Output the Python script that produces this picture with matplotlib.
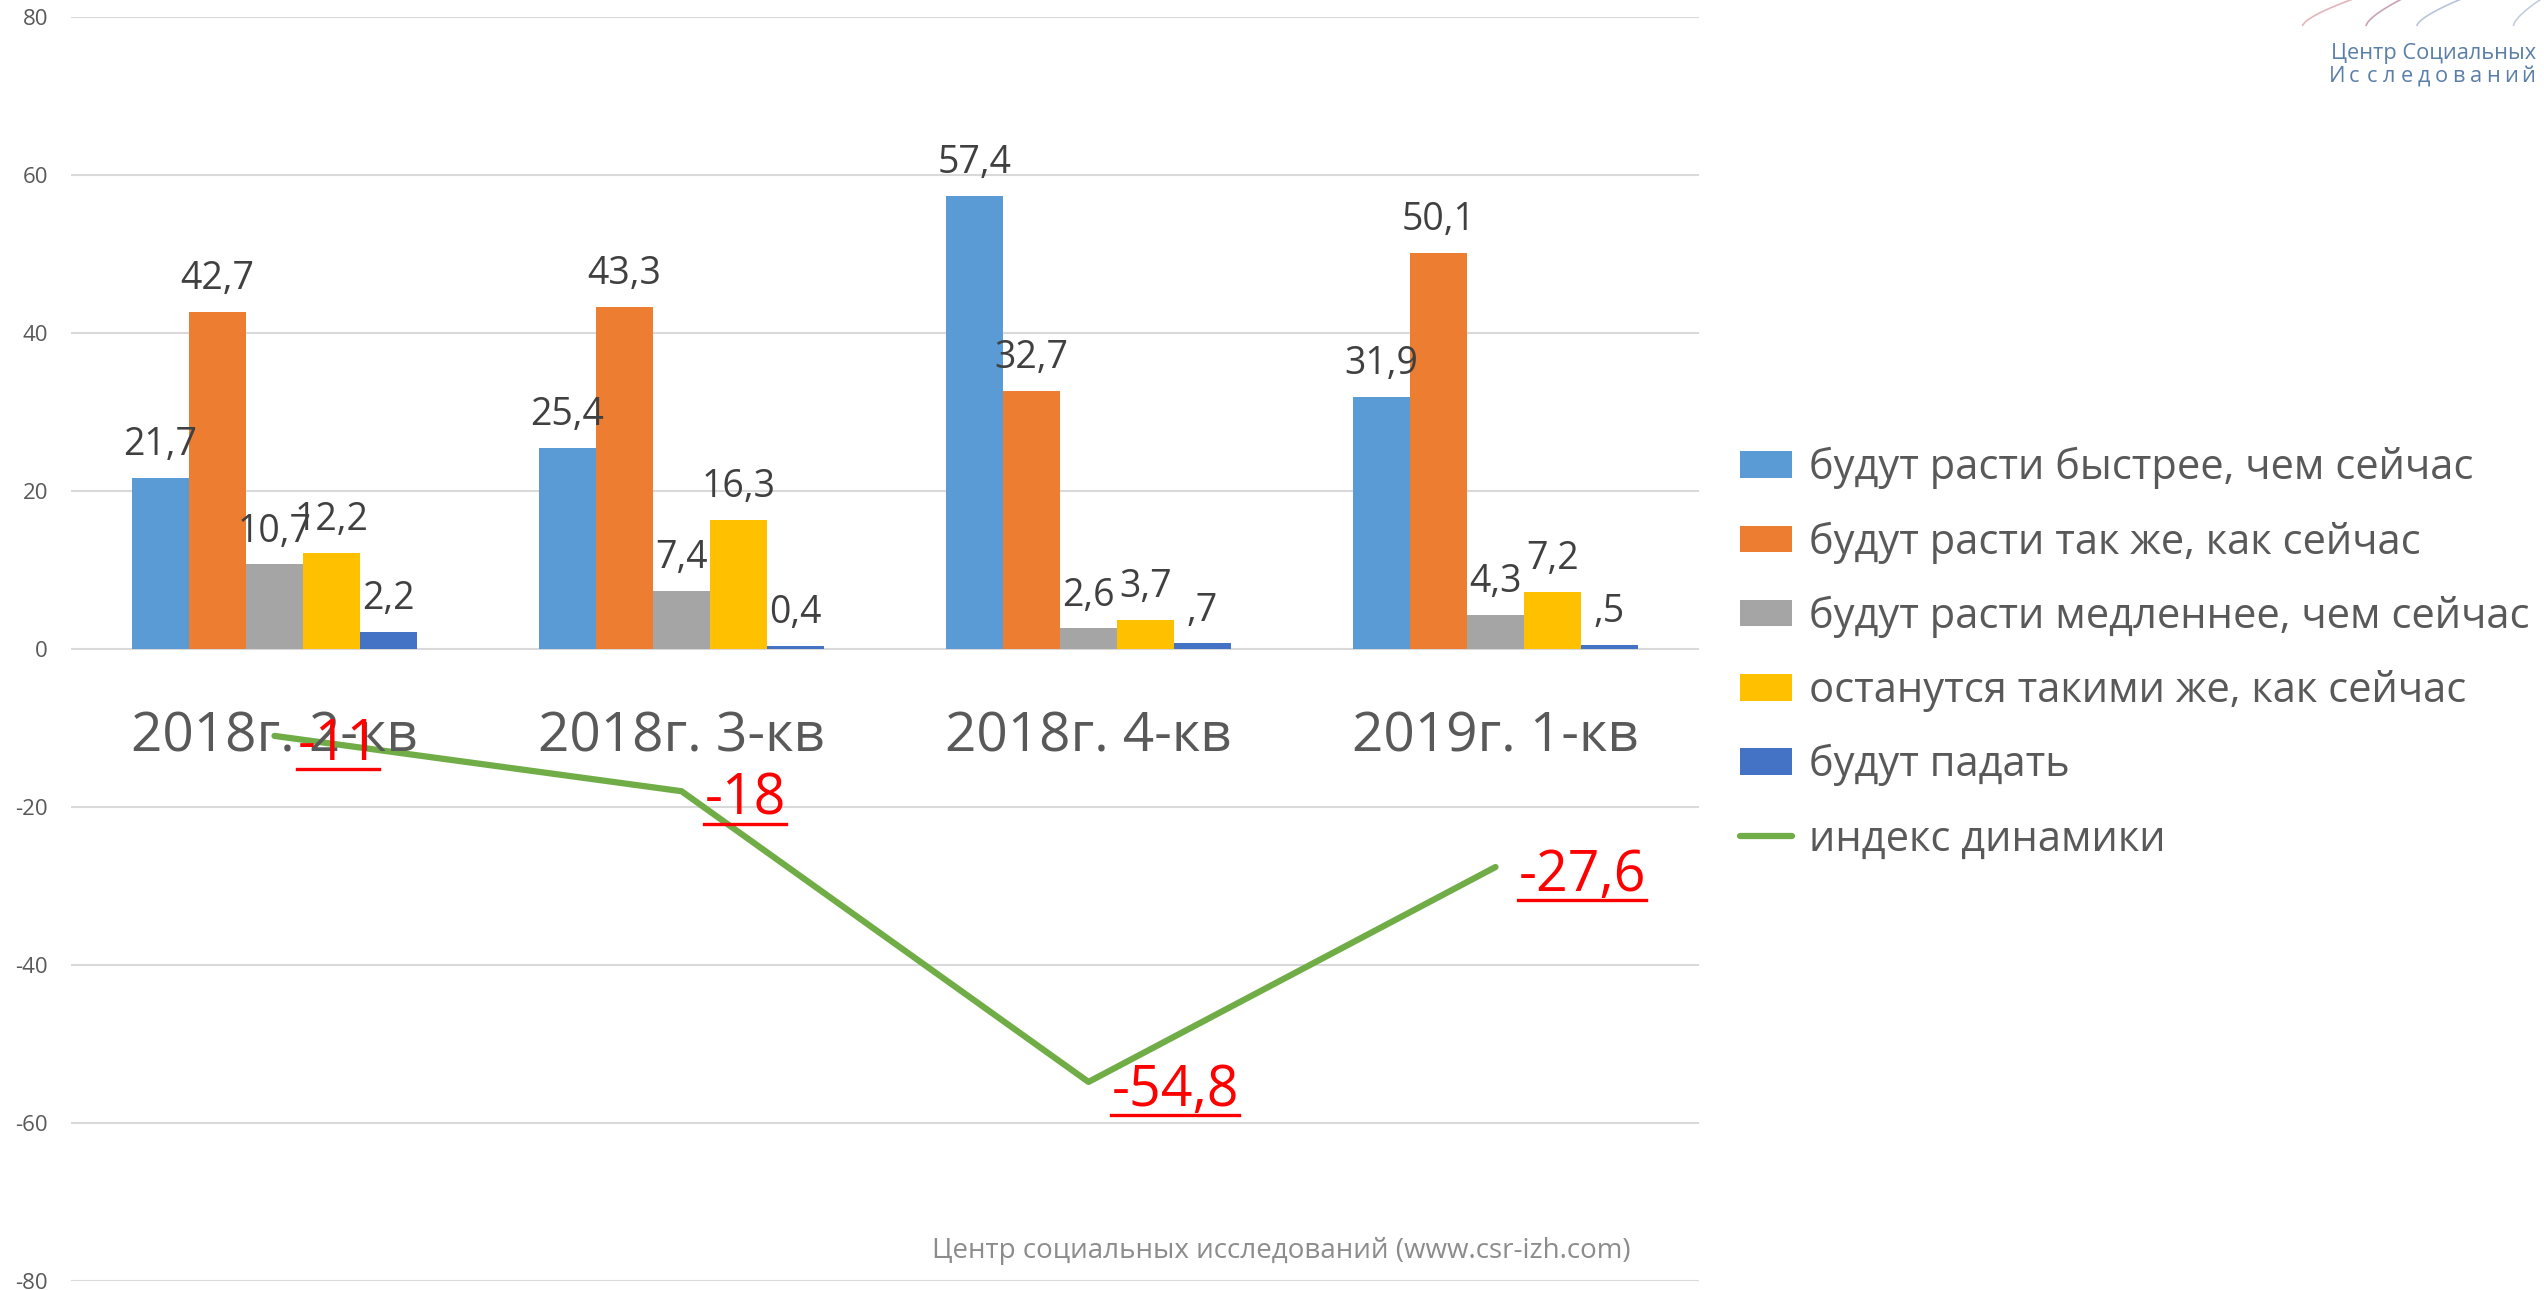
import matplotlib
matplotlib.use("Agg")
import matplotlib.pyplot as plt
import numpy as np
from matplotlib.lines import Line2D
from matplotlib.patches import Patch

categories = ["2018г. 2-кв", "2018г. 3-кв", "2018г. 4-кв", "2019г. 1-кв"]
series_names = [
    "будут расти быстрее, чем сейчас",
    "будут расти так же, как сейчас",
    "будут расти медленнее, чем сейчас",
    "останутся такими же, как сейчас",
    "будут падать",
]
line_name = "индекс динамики"

faster = [21.7, 25.4, 57.4, 31.9]
same_pace = [42.7, 43.3, 32.7, 50.1]
slower = [10.7, 7.4, 2.6, 4.3]
unchanged = [12.2, 16.3, 3.7, 7.2]
falling = [2.2, 0.4, 0.7, 0.5]
falling_labels = ["2,2", "0,4", ",7", ",5"]
dynamics_index = [-11, -18, -54.8, -27.6]
yticks = [-80, -60, -40, -20, 0, 20, 40, 60, 80]

colors = ["#5B9BD5", "#ED7D31", "#A5A5A5", "#FFC000", "#4472C4"]
line_color = "#70AD47"

plt.rcParams["font.family"] = ["Open Sans", "DejaVu Sans"]
plt.rcParams["axes.unicode_minus"] = False

fig = plt.figure(figsize=(25.44, 12.9), dpi=100)
ax = fig.add_axes([71 / 2544, 1 - 1281 / 1290, 1628 / 2544, 1264 / 1290])

x = np.arange(len(categories))
width = 0.14
series = [faster, same_pace, slower, unchanged, falling]
handles = []
for i, (vals, col, name) in enumerate(zip(series, colors, series_names)):
    pos = x + (i - 2) * width
    ax.bar(pos, vals, width=width, color=col, zorder=2)
    labels = falling_labels if vals is falling else [f"{v:.1f}".replace(".", ",") for v in vals]
    for px, v, lab in zip(pos, vals, labels):
        ax.annotate(lab, (px, v), xytext=(0, 16.5), textcoords="offset points",
                    ha="center", va="baseline", fontsize=27, color="#404040", zorder=5)
    handles.append(Patch(facecolor=col, edgecolor="none"))

ax.plot(x, dynamics_index, color=line_color, lw=4.5, solid_capstyle="round", zorder=3)
handles.append(Line2D([], [], color=line_color, lw=4.5, solid_capstyle="round"))

for xi, cat in zip(x, categories):
    ax.text(xi, -13.0, cat, ha="center", va="baseline", fontsize=39.5, color="#595959", zorder=4)

red_texts = []
for xi, v in zip(x, dynamics_index):
    lab = f"{v:g}".replace(".", ",")
    t = ax.annotate(lab, (xi, v), xytext=(16.5, -17), textcoords="offset points",
                    ha="left", va="baseline", fontsize=40, color="#FF0000", zorder=6)
    red_texts.append((t, xi, v))

ax.set_xlim(-0.5, 3.5)
ax.set_ylim(-80, 80)
ax.set_yticks(yticks)
ax.set_yticklabels([str(t) for t in yticks])
ax.tick_params(axis="y", length=0, pad=16.5, labelsize=16, labelcolor="#595959")
ax.set_xticks([])
ax.grid(axis="y", color="#D9D9D9", lw=1.5, zorder=0)
ax.set_axisbelow(True)
for s in ax.spines.values():
    s.set_visible(False)

fig.legend(handles, series_names + [line_name], loc="upper left",
           bbox_to_anchor=(1740 / 2544, 1 - 447 / 1290), frameon=False, fontsize=30,
           handlelength=1.25, handleheight=0.6, handletextpad=0.4, labelspacing=0.77,
           borderpad=0, borderaxespad=0, labelcolor="#595959")

fig.text(1631 / 2544, 1 - 1258 / 1290, "Центр социальных исследований (www.csr-izh.com)",
         ha="right", va="baseline", fontsize=20, color="#8C8C8C")

# logo in the top-right corner
logo_col = "#5A7FA8"
fig.text(2536 / 2544, 1 - 59 / 1290, "Центр Социальных", ha="right", va="baseline",
         fontsize=15.7, color=logo_col)
word = "Исследований"
x0, x1 = 2337 / 2544, 2528 / 2544
for k, ch in enumerate(word):
    fig.text(x0 + (x1 - x0) * k / (len(word) - 1), 1 - 82 / 1290, ch, ha="center",
             va="baseline", fontsize=15.7, color=logo_col)
lax = fig.add_axes([2290 / 2544, 1 - 28 / 1290, 254 / 2544, 28 / 1290])
lax.set_xlim(0, 1)
lax.set_ylim(0, 1)
lax.axis("off")
tt = np.linspace(0, 1, 30)
for (a, b, c), col in [((0.05, 0.3, 1.1), "#E3B5BC"), ((0.3, 0.5, 1.2), "#C9A3B5"),
                       ((0.5, 0.72, 1.1), "#B8C4DA"), ((0.88, 1.0, 1.0), "#C4CEE0")]:
    lax.plot(a + (b - a) * tt, 0.1 + c * tt ** 0.7, color=col, lw=1.2)

# underline red labels
fig.canvas.draw()
inv = fig.transFigure.inverted()
for t, xi, v in red_texts:
    bb = t.get_window_extent()
    base = ax.transData.transform((xi, v))[1] - 17 * fig.dpi / 72
    yline = base - 9
    (fx0, fy), (fx1, _) = inv.transform([(bb.x0, yline), (bb.x1, yline)])
    fig.add_artist(Line2D([fx0, fx1], [fy, fy], color="#FF0000", lw=2.4, zorder=6))

fig.savefig("out.png", dpi=100)
